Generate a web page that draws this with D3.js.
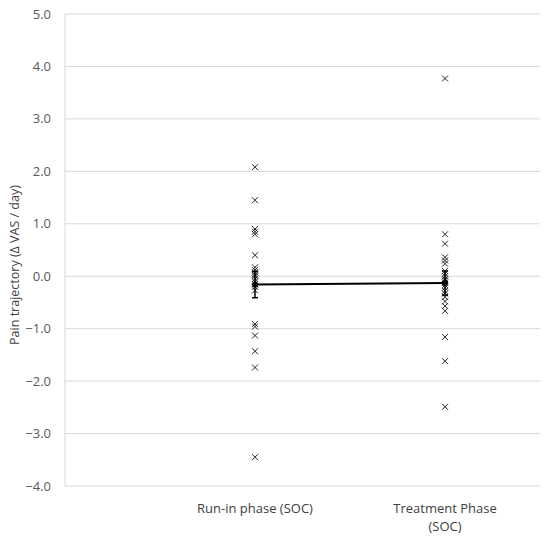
<!DOCTYPE html>
<html lang="en">
<head>
    <meta charset="UTF-8">
    <title>pain trajectory</title>
    <script src="https://d3js.org/d3.v7.min.js"></script>
    <style>
        html, body {
            padding: 0;
            margin: 0;
            background-color: white;
            font-family: "Open Sans", sans-serif;
        }
    </style>
</head>
<body>
<script>
    // phases on the x axis (positions 1 and 2)
    const phases = ["Run-in phase (SOC)", "Treatment Phase (SOC)"];
    const phaseLines = [["Run-in phase (SOC)"], ["Treatment Phase", "(SOC)"]];

    // individual pain trajectories per phase
    const runIn = [2.08, 1.45, 0.90, 0.85, 0.80, 0.40, 0.17, 0.12, 0.07, 0.03, 0.00,
        -0.05, -0.10, -0.15, -0.20, -0.27, -0.91, -0.96, -1.13, -1.43, -1.74, -3.45];
    const treatment = [3.77, 0.80, 0.62, 0.36, 0.30, 0.24, 0.10, 0.05, 0.00, -0.05, -0.08,
        -0.12, -0.17, -0.22, -0.28, -0.33, -0.40, -0.48, -0.57, -0.66, -1.16, -1.62, -2.49];

    // mean and standard error
    const means = [-0.16, -0.13];
    const errors = [0.25, 0.23];

    const yTicks = [5, 4, 3, 2, 1, 0, -1, -2, -3, -4];

    const width = 550, height = 538;
    const margin = {top: 14, right: 10, bottom: 52, left: 65};

    const svg = d3.select("body").append("svg")
        .attr("width", width)
        .attr("height", height);

    const x = d3.scaleLinear()
        .domain([0, 2.5])
        .range([margin.left, width - margin.right]);

    const y = d3.scaleLinear()
        .domain([-4, 5])
        .range([height - margin.bottom, margin.top]);

    // gridlines
    svg.append("g")
        .selectAll("line")
        .data(yTicks)
        .join("line")
        .attr("x1", x(0))
        .attr("x2", x(2.5))
        .attr("y1", d => y(d))
        .attr("y2", d => y(d))
        .attr("stroke", "#d9d9d9")
        .attr("stroke-width", 1);

    // vertical axis line
    svg.append("line")
        .attr("x1", x(0)).attr("x2", x(0))
        .attr("y1", y(5)).attr("y2", y(-4))
        .attr("stroke", "#d9d9d9");

    // y tick labels
    svg.append("g")
        .selectAll("text")
        .data(yTicks)
        .join("text")
        .attr("x", x(0) - 14)
        .attr("y", d => y(d))
        .attr("dy", "0.35em")
        .attr("text-anchor", "end")
        .attr("font-size", 13)
        .attr("fill", "#595959")
        .text(d => d3.format(".1f")(d));

    // y axis title
    svg.append("text")
        .attr("transform", `translate(19,${(y(5) + y(-4)) / 2 + 15}) rotate(-90)`)
        .attr("text-anchor", "middle")
        .attr("font-size", 12.5)
        .attr("fill", "#404040")
        .text("Pain trajectory (\u0394 VAS / day)");

    // x labels
    const xl = svg.append("g")
        .selectAll("text")
        .data(phaseLines)
        .join("text")
        .attr("x", (d, i) => x(i + 1))
        .attr("y", y(-4) + 27)
        .attr("text-anchor", "middle")
        .attr("font-size", 13)
        .attr("fill", "#404040");
    xl.selectAll("tspan")
        .data(d => d)
        .join("tspan")
        .attr("x", function () { return d3.select(this.parentNode).attr("x"); })
        .attr("dy", (d, i) => i === 0 ? 0 : 18)
        .text(d => d);

    // individual points as crosses
    const groups = [runIn, treatment];
    const s = 3;
    groups.forEach((vals, i) => {
        const g = svg.append("g")
            .attr("stroke", "#262626")
            .attr("stroke-width", 1);
        g.selectAll("path")
            .data(vals)
            .join("path")
            .attr("d", d => {
                const cx = x(i + 1), cy = y(d);
                return `M${cx - s},${cy - s}L${cx + s},${cy + s}M${cx - s},${cy + s}L${cx + s},${cy - s}`;
            });
    });

    // mean line
    svg.append("path")
        .datum(means)
        .attr("fill", "none")
        .attr("stroke", "black")
        .attr("stroke-width", 2)
        .attr("d", d3.line().x((d, i) => x(i + 1)).y(d => y(d)));

    // error bars
    const eb = svg.append("g").attr("stroke", "black").attr("stroke-width", 1.5);
    means.forEach((m, i) => {
        const cx = x(i + 1);
        eb.append("line")
            .attr("x1", cx).attr("x2", cx)
            .attr("y1", y(m + errors[i])).attr("y2", y(m - errors[i]));
        [m + errors[i], m - errors[i]].forEach(v => {
            eb.append("line")
                .attr("x1", cx - 3).attr("x2", cx + 3)
                .attr("y1", y(v)).attr("y2", y(v));
        });
    });

    // mean markers
    svg.append("g")
        .selectAll("circle")
        .data(means)
        .join("circle")
        .attr("cx", (d, i) => x(i + 1))
        .attr("cy", d => y(d))
        .attr("r", 3)
        .attr("fill", "black");
</script>
</body>
</html>
